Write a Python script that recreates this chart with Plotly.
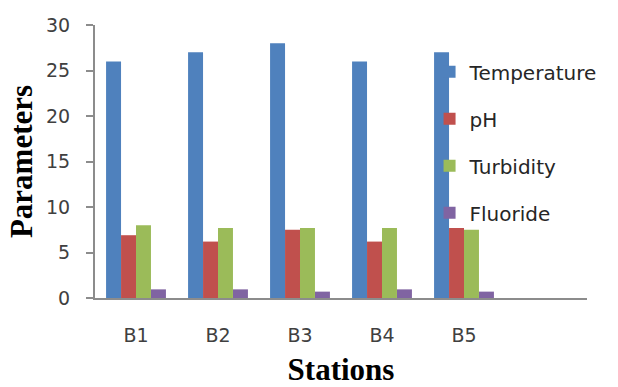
import plotly.graph_objects as go

# Water-quality parameters measured at each station
stations = ["B1", "B2", "B3", "B4", "B5"]
temperature = [26, 27, 28, 26, 27]
ph = [6.9, 6.2, 7.5, 6.2, 7.7]
turbidity = [8.0, 7.7, 7.7, 7.7, 7.5]
fluoride = [0.95, 0.95, 0.7, 0.95, 0.7]

series_names = ["Temperature", "pH", "Turbidity", "Fluoride"]
series_values = [temperature, ph, turbidity, fluoride]
series_colors = ["#4F81BD", "#C0504D", "#9BBB59", "#8064A2"]

fig = go.Figure()
for name, vals, color in zip(series_names, series_values, series_colors):
    fig.add_trace(go.Bar(
        x=stations, y=vals, name=name, legendgroup=name,
        marker=dict(color=color, line=dict(width=0)),
    ))

axis_font = dict(family="DejaVu Sans", size=19, color="#404040")
title_font = dict(family="Liberation Serif", size=31, color="#000000")

fig.update_layout(
    width=618, height=387,
    margin=dict(l=95, r=31, t=25, b=89),
    paper_bgcolor="white", plot_bgcolor="white",
    barmode="group", bargap=0.27, bargroupgap=0,
    showlegend=True,
    legend=dict(
        x=0.68, y=0.90, xanchor="left", yanchor="top",
        font=dict(family="DejaVu Sans", size=20, color="#262626"),
        tracegroupgap=18, traceorder="grouped",
        bgcolor="rgba(0,0,0,0)",
    ),
    xaxis=dict(
        type="category", range=[-0.5, 5.5], automargin=False,
        showline=True, linecolor="#8C8C8C", linewidth=2,
        ticks="", showgrid=False, zeroline=False,
        tickfont=axis_font, ticklabelstandoff=19,
        title=dict(text="<b>Stations</b>", font=title_font, standoff=17),
    ),
    yaxis=dict(
        range=[0, 30], tickmode="array", tickvals=[0, 5, 10, 15, 20, 25, 30],
        automargin=False,
        showline=True, linecolor="#8C8C8C", linewidth=2,
        ticks="outside", ticklen=7, tickwidth=2, tickcolor="#8C8C8C",
        showgrid=False, zeroline=False,
        tickfont=axis_font, ticklabelstandoff=12,
        title=dict(text="<b>Parameters</b>", font=title_font, standoff=4),
    ),
)

fig.write_html("out.html")
